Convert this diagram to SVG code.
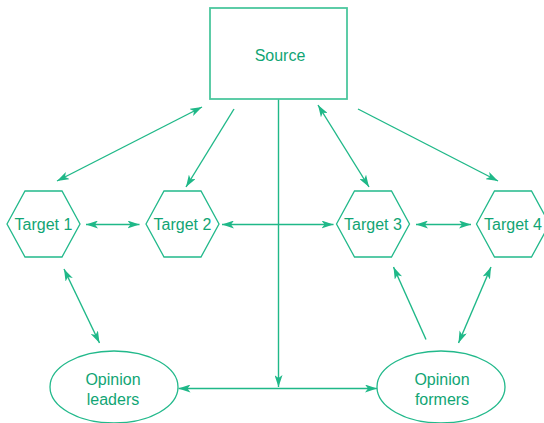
<svg xmlns="http://www.w3.org/2000/svg" width="544" height="423" viewBox="0 0 544 423">
  <style>
    .shape { fill: #ffffff; stroke: #22b98b; stroke-width: 1.3; }
    .box { fill: #ffffff; stroke: #4cc79e; stroke-width: 1.8; }
    .label { font-family: "Liberation Sans", Arial, sans-serif; font-size: 16px; fill: #11a574; text-anchor: middle; }
    .link { fill: none; stroke: #1fb888; stroke-width: 1.4; }
  </style>
  <defs>
    <marker id="head" viewBox="0 0 12 8" refX="12" refY="4" markerWidth="12" markerHeight="8" markerUnits="userSpaceOnUse" orient="auto-start-reverse">
      <path d="M0,0 L12,4 L0,8 L3,4 Z" fill="#1fb888"/>
    </marker>
  </defs>

  <g id="connectors">
    <!-- Source to targets -->
    <line class="link" x1="202" y1="107" x2="57" y2="181" marker-start="url(#head)" marker-end="url(#head)"/>
    <line class="link" x1="234" y1="109" x2="186" y2="187" marker-end="url(#head)"/>
    <line class="link" x1="318" y1="105" x2="369" y2="187" marker-start="url(#head)" marker-end="url(#head)"/>
    <line class="link" x1="358" y1="109" x2="498" y2="181" marker-end="url(#head)"/>
    <!-- Between targets -->
    <line class="link" x1="86" y1="224.5" x2="139.5" y2="224.5" marker-start="url(#head)" marker-end="url(#head)"/>
    <line class="link" x1="222" y1="224.5" x2="333.5" y2="224.5" marker-start="url(#head)" marker-end="url(#head)"/>
    <line class="link" x1="416" y1="224.5" x2="471" y2="224.5" marker-start="url(#head)" marker-end="url(#head)"/>
    <!-- Source straight down -->
    <line class="link" x1="278.5" y1="99" x2="278.5" y2="387" marker-end="url(#head)"/>
    <!-- Between opinion groups -->
    <line class="link" x1="178.5" y1="388.5" x2="377" y2="388.5" marker-start="url(#head)" marker-end="url(#head)"/>
    <!-- Targets to opinion groups -->
    <line class="link" x1="64" y1="269" x2="99.5" y2="343" marker-start="url(#head)" marker-end="url(#head)"/>
    <line class="link" x1="426" y1="339.5" x2="393.5" y2="267" marker-end="url(#head)"/>
    <line class="link" x1="491" y1="267" x2="458.5" y2="343" marker-start="url(#head)" marker-end="url(#head)"/>
  </g>

  <g id="source">
    <rect class="box" x="210" y="8" width="137" height="91"/>
    <text class="label" x="280" y="60.5">Source</text>
  </g>

  <g id="target1">
    <polygon class="shape" points="7,224 25,191 62,191 80,224 62,257 25,257"/>
    <text class="label" x="43.5" y="229.5">Target 1</text>
  </g>
  <g id="target2">
    <polygon class="shape" points="146,224 164,191 201,191 219,224 201,257 164,257"/>
    <text class="label" x="182.5" y="229.5">Target 2</text>
  </g>
  <g id="target3">
    <polygon class="shape" points="336.5,224 354.5,191 391.5,191 409.5,224 391.5,257 354.5,257"/>
    <text class="label" x="373" y="229.5">Target 3</text>
  </g>
  <g id="target4">
    <polygon class="shape" points="476.5,224 494.5,191 531.5,191 549.5,224 531.5,257 494.5,257"/>
    <text class="label" x="513" y="229.5">Target 4</text>
  </g>

  <g id="opinion-leaders">
    <ellipse class="shape" cx="114" cy="387" rx="64" ry="36"/>
    <text class="label" x="113" y="384.5">Opinion</text>
    <text class="label" x="113" y="404.5">leaders</text>
  </g>
  <g id="opinion-formers">
    <ellipse class="shape" cx="441" cy="387" rx="64" ry="36"/>
    <text class="label" x="442" y="384.5">Opinion</text>
    <text class="label" x="442" y="404.5">formers</text>
  </g>
</svg>
